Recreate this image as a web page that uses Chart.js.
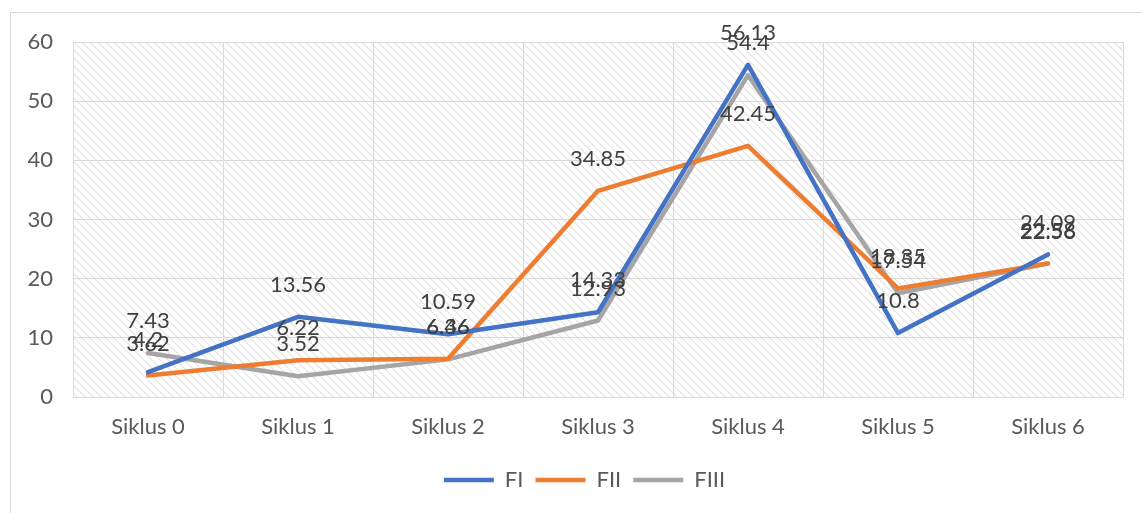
<!DOCTYPE html>
<html>
<head>
<meta charset="utf-8">
<script src="https://cdn.jsdelivr.net/npm/chart.js@4/dist/chart.umd.min.js"></script>
<style>
html,body{margin:0;padding:0;background:#fff;}
#wrap{position:relative;width:1142px;height:513px;}
</style>
</head>
<body>
<div id="wrap"><canvas id="c" width="1142" height="513"></canvas></div>
<script>
const categories = ["Siklus 0","Siklus 1","Siklus 2","Siklus 3","Siklus 4","Siklus 5","Siklus 6"];
const fI   = [4.2, 13.56, 10.59, 14.33, 56.13, 10.8, 24.09];
const fII  = [3.62, 6.22, 6.46, 34.85, 42.45, 18.35, 22.58];
const fIII = [7.43, 3.52, 6.36, 12.93, 54.4, 17.54, 22.56];
const seriesNames = ["FI","FII","FIII"];
const yTicks = [0,10,20,30,40,50,60];

const FONT = "Lato, 'Liberation Sans', sans-serif";

function makePattern(ctx){
  const p = document.createElement('canvas');
  p.width = 8; p.height = 8;
  const g = p.getContext('2d');
  g.fillStyle = '#ffffff'; g.fillRect(0,0,8,8);
  g.strokeStyle = '#e2e2e2'; g.lineWidth = 1.1;
  g.beginPath();
  g.moveTo(-2,-2); g.lineTo(10,10);
  g.moveTo(-10,-2); g.lineTo(2,10);
  g.moveTo(6,-2); g.lineTo(18,10);
  g.stroke();
  return ctx.createPattern(p,'repeat');
}

const bgPlugin = {
  id:'bg',
  afterLayout(chart){
    if (chart.legend){ chart.legend.left += 23; chart.legend.right += 23; }
  },
  beforeDraw(chart){
    const ctx = chart.ctx, a = chart.chartArea;
    ctx.save();
    ctx.fillStyle = '#fff';
    ctx.fillRect(0,0,chart.width,chart.height);
    ctx.strokeStyle = '#d9d9d9'; ctx.lineWidth = 1;
    ctx.strokeRect(10.5,12.5,1140,510);
    ctx.fillStyle = makePattern(ctx);
    ctx.fillRect(a.left,a.top,a.right-a.left,a.bottom-a.top);
    ctx.restore();
  }
};

const labelPlugin = {
  id:'vals',
  afterDatasetsDraw(chart){
    const ctx = chart.ctx;
    ctx.save();
    ctx.font = "22px " + FONT;
    ctx.fillStyle = '#404040';
    ctx.textAlign = 'center';
    ctx.textBaseline = 'middle';
    chart.data.datasets.forEach((ds,i)=>{
      const meta = chart.getDatasetMeta(i);
      meta.data.forEach((pt,j)=>{
        ctx.fillText(String(ds.data[j]), pt.x, pt.y - 32);
      });
    });
    ctx.restore();
  }
};

const colors = ['#4472C4','#ED7D31','#A5A5A5'];
const dataSets = [fI,fII,fIII].map((d,i)=>({
  label: seriesNames[i],
  data: d,
  borderColor: colors[i],
  backgroundColor: colors[i],
  borderWidth: 4.5,
  borderCapStyle: 'round',
  borderJoinStyle: 'round',
  pointRadius: 0,
  pointHoverRadius: 0,
  pointStyle: 'line',
  tension: 0
}));

new Chart(document.getElementById('c'), {
  type:'line',
  data:{labels:categories, datasets:dataSets},
  plugins:[bgPlugin,labelPlugin],
  options:{
    responsive:false,
    animation:false,
    events:[],
    layout:{padding:{left:0,right:19,top:42,bottom:12}},
    plugins:{
      legend:{
        position:'bottom',
        labels:{
          usePointStyle:true,
          pointStyleWidth:50,
          boxHeight:4,
          padding:12,
          color:'#595959',
          font:{family:FONT,size:22}
        }
      },
      tooltip:{enabled:false}
    },
    scales:{
      x:{
        offset:true,
        grid:{offset:true,color:'#d9d9d9',drawTicks:false},
        border:{color:'#d9d9d9'},
        ticks:{color:'#595959',font:{family:FONT,size:22},padding:17,maxRotation:0},
        afterFit(s){ s.height = 60; }
      },
      y:{
        min:0,max:60,
        afterBuildTicks(s){ s.ticks = yTicks.map(v=>({value:v})); },
        grid:{color:'#d9d9d9',drawTicks:false},
        border:{display:false},
        ticks:{color:'#595959',font:{family:FONT,size:22},padding:20},
        afterFit(s){ s.width = 73; }
      }
    }
  }
});
</script>
</body>
</html>
